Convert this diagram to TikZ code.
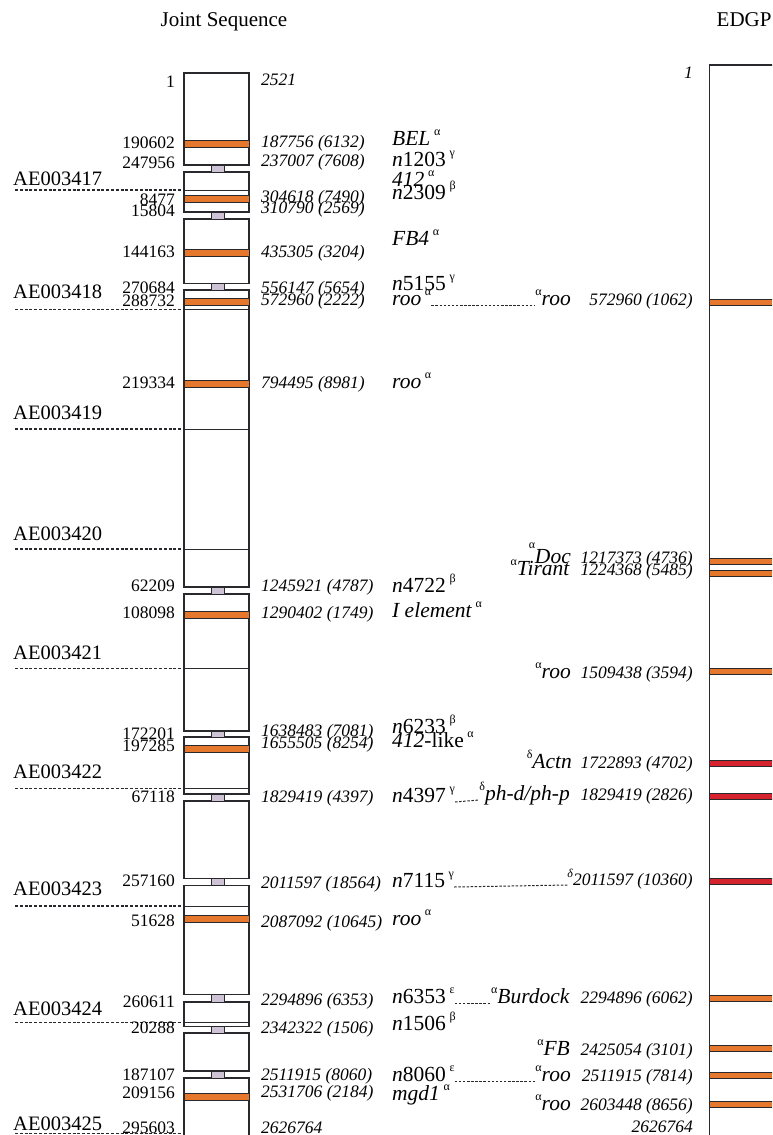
\documentclass[tikz,border=0pt]{standalone}
\usepackage{fontspec}
\setmainfont{Liberation Serif}
\definecolor{orng}{RGB}{230,120,45}
\definecolor{redb}{RGB}{212,35,45}
\definecolor{linec}{RGB}{40,40,45}
\definecolor{conng}{RGB}{205,195,212}
\newcommand\grk[1]{\raisebox{0.45em}{\fontsize{12}{12}\selectfont #1}}
\newcommand\fnum{\fontsize{17.5}{18}\selectfont}
\newcommand\fname{\fontsize{21.5}{22}\selectfont}
\newcommand\fae{\fontsize{20.5}{21}\selectfont}
\tikzset{
  segbox/.style={draw=linec, line width=1.2pt, fill=white},
  bandbox/.style={draw=linec, line width=0.6pt, fill=orng},
  redbox/.style={draw=linec, line width=0.6pt, fill=redb},
  connbox/.style={draw=linec, line width=0.8pt, fill=conng},
  innerl/.style={draw=linec, line width=0.9pt},
  aeline/.style={draw=linec, line width=1.1pt, dash pattern=on 3pt off 1.8pt},
  dotl/.style={draw=linec, line width=1pt, dash pattern=on 2.5pt off 1.6pt},
  lnum/.style={font=\fnum, anchor=base east, inner sep=0pt},
  rnum/.style={font=\fnum\itshape, anchor=base west, inner sep=0pt},
  enum/.style={font=\fnum\itshape, anchor=base east, inner sep=0pt},
  lname/.style={font=\fname, anchor=base west, inner sep=0pt},
  rname/.style={font=\fname, anchor=base east, inner sep=0pt},
  aelab/.style={font=\fae, anchor=base west, inner sep=0pt},
  ttl/.style={font=\fontsize{21}{22}\selectfont, inner sep=0pt}
}
\begin{document}
\begin{tikzpicture}[x=1pt,y=-1pt]
\fill[white] (0,0) rectangle (772,1135);
\useasboundingbox (0,0) rectangle (772,1135);
\clip (0,0) rectangle (772,1135);

% titles
\node[ttl, anchor=base] (tjoint) at (224,26) {Joint Sequence};
\node[ttl, anchor=base west] (tedgp) at (716.5,27) {EDGP};

% ---------- left column ----------
\foreach \t/\b in {73/165, 172/212, 219/283.5, 290/587, 594/731, 737/794, 801/878.5, 885.5/994.5, 1002/1026.5, 1033/1071, 1078/1150}
  \draw[segbox] (184,\t) rectangle (249,\b);
\foreach \t/\b in {165/172, 212/219, 283.5/290, 587/594, 731/737, 794/801, 878.5/885.5, 994.5/1002, 1026.5/1033, 1071/1078}
  \draw[connbox] (211,\t) rectangle (224,\b);
\foreach \y in {143.7,199,253,301.7,384,615,748.7,919,1096.7}
  \draw[bandbox] (184,{\y-3.3}) rectangle (249,{\y+3.3});
\foreach \y in {190,309.5,429,549,668.3,788.3,906,1022.7}
  \draw[innerl] (184,\y) -- (249,\y);

% AE labels and dashed boundaries
\foreach \n/\yb/\yl in {3417/185/190, 3418/298.5/309.5, 3419/419/429, 3420/540/549, 3421/659/668.3, 3422/778/788.3, 3423/895/906, 3424/1015/1022.7, 3425/1130/1133.5}{
  \node[aelab] (ae\n) at (13,\yb) {AE00\n};
  \coordinate (aes\n) at (15,\yl);
  \coordinate (aee\n) at (184,\yl);
  \draw[aeline] (aes\n) -- (aee\n);
}

% left numbers
\node[lnum] (l1) at (175,87) {1};
\node[lnum] (l2) at (175,148.3) {190602};
\node[lnum] (l3) at (175,168) {247956};
\node[lnum] (l4) at (175,205) {8477};
\node[lnum] (l5) at (175,216.5) {15804};
\node[lnum] (l6) at (175,257) {144163};
\node[lnum] (l7) at (175,293) {270684};
\node[lnum] (l8) at (175,306.5) {288732};
\node[lnum] (l9) at (175,388) {219334};
\node[lnum] (l10) at (175,591) {62209};
\node[lnum] (l11) at (175,618) {108098};
\node[lnum] (l12) at (175,739) {172201};
\node[lnum] (l13) at (175,751.7) {197285};
\node[lnum] (l14) at (175,802.5) {67118};
\node[lnum] (l15) at (175,886.5) {257160};
\node[lnum] (l16) at (175,926) {51628};
\node[lnum] (l17) at (175,1007) {260611};
\node[lnum] (l18) at (175,1033) {20288};
\node[lnum] (l19) at (175,1080.5) {187107};
\node[lnum] (l20) at (175,1098.3) {209156};
\node[lnum] (l21) at (175,1133) {295603};

% italic positions
\node[rnum] (r1) at (261,85) {2521};
\node[rnum] (r2) at (261,147.5) {187756 (6132)};
\node[rnum] (r3) at (261,166.5) {237007 (7608)};
\node[rnum] (r4) at (261,202) {304618 (7490)};
\node[rnum] (r5) at (261,213.5) {310790 (2569)};
\node[rnum] (r6) at (261,257) {435305 (3204)};
\node[rnum] (r7) at (261,293) {556147 (5654)};
\node[rnum] (r8) at (261,305) {572960 (2222)};
\node[rnum] (r9) at (261,388) {794495 (8981)};
\node[rnum] (r10) at (261,591) {1245921 (4787)};
\node[rnum] (r11) at (261,618) {1290402 (1749)};
\node[rnum] (r12) at (261,736.5) {1638483 (7081)};
\node[rnum] (r13) at (261,748) {1655505 (8254)};
\node[rnum] (r14) at (261,802) {1829419 (4397)};
\node[rnum] (r15) at (261,888) {2011597 (18564)};
\node[rnum] (r16) at (261,927) {2087092 (10645)};
\node[rnum] (r17) at (261,1005) {2294896 (6353)};
\node[rnum] (r18) at (261,1033) {2342322 (1506)};
\node[rnum] (r19) at (261,1080) {2511915 (8060)};
\node[rnum] (r20) at (261,1097) {2531706 (2184)};
\node[rnum] (r21) at (261,1133) {2626764};

% element names
\node[lname] (bel) at (392,145) {\textit{BEL}\,\grk{α}};
\node[lname] (n1203) at (392,166) {\textit{n}1203\,\grk{γ}};
\node[lname] (e412) at (392,186) {\textit{412}\,\grk{α}};
\node[lname] (n2309) at (392,199) {\textit{n}2309\,\grk{β}};
\node[lname] (fb4) at (392,245) {\textit{FB4}\,\grk{α}};
\node[lname] (n5155) at (392,290) {\textit{n}5155\,\grk{γ}};
\node[lname] (roo1) at (392,305) {\textit{roo}\,\grk{α}};
\node[lname] (roo2) at (392,388) {\textit{roo}\,\grk{α}};
\node[lname] (n4722) at (392,592) {\textit{n}4722\,\grk{β}};
\node[lname] (iel) at (392,617) {\textit{I element}\,\grk{α}};
\node[lname] (n6233) at (392,733) {\textit{n}6233\,\grk{β}};
\node[lname] (l412) at (392,747) {\textit{412}-like\,\grk{α}};
\node[lname] (n4397) at (392,802) {\textit{n}4397\,\grk{γ}};
\node[lname] (n7115) at (392,887) {\textit{n}7115\,\grk{γ}};
\node[lname] (roo3) at (392,925) {\textit{roo}\,\grk{α}};
\node[lname] (n6353) at (392,1003) {\textit{n}6353\,\grk{ε}};
\node[lname] (n1506) at (392,1030) {\textit{n}1506\,\grk{β}};
\node[lname] (n8060) at (392,1081) {\textit{n}8060\,\grk{ε}};
\node[lname] (mgd1) at (392,1100) {\textit{mgd1}\,\grk{α}};

% ---------- EDGP column ----------
\draw[segbox] (709.5,65) rectangle (800,1150);
\foreach \y in {302,561.7,573.3,671.7,998.3,1048.3,1075,1104}
  \draw[bandbox] (709.5,{\y-3}) rectangle (800,{\y+3});
\foreach \y in {763.3,796.7,881.7}
  \draw[redbox] (709.5,{\y-3}) rectangle (800,{\y+3});

\node[enum] (e1) at (693,78) {1};
\node[rname] (roo1r) at (571,305) {\grk{α}\textit{roo}};
\node[enum] (e2) at (693,305) {572960 (1062)};
\node[rname] (doc) at (571,563) {\textit{Doc}};
\node[font=\fontsize{12}{12}\selectfont, inner sep=0pt] (docg) at (532,546) {α};
\node[rname] (tir) at (570,575) {\grk{α}\textit{Tirant}};
\node[enum] (e3) at (693,563) {1217373 (4736)};
\node[enum] (e4) at (693,575) {1224368 (5485)};
\node[rname] (roo4) at (571,678) {\grk{α}\textit{roo}};
\node[enum] (e5) at (693,678) {1509438 (3594)};
\node[rname] (actn) at (572,768) {\grk{δ}\textit{Actn}};
\node[enum] (e6) at (693,768) {1722893 (4702)};
\node[rname] (phd) at (570,800) {\grk{δ}\textit{ph-d/ph-p}};
\node[enum] (e7) at (693,800) {1829419 (2826)};
\node[enum] (e8) at (693,885) {\grk{δ}\textit{2011597 (10360)}};
\node[rname] (burd) at (570,1003) {\grk{α}\textit{Burdock}};
\node[enum] (e9) at (693,1003) {2294896 (6062)};
\node[rname] (fb) at (570,1055) {\grk{α}\textit{FB}};
\node[enum] (e10) at (693,1055) {2425054 (3101)};
\node[rname] (roo5) at (571,1081) {\grk{α}\textit{roo}};
\node[enum] (e11) at (693,1081) {2511915 (7814)};
\node[rname] (roo6) at (571,1110) {\grk{α}\textit{roo}};
\node[enum] (e12) at (693,1110) {2603448 (8656)};
\node[enum] (e13) at (693,1132) {2626764};

% dotted correspondences
\draw[dotl] (roo1.base east) -- (roo1r.base west);
\draw[dotl] (n4397.base east) -- (phd.base west);
\draw[dotl] (n7115.base east) -- (e8.base west);
\draw[dotl] (n6353.base east) -- (burd.base west);
\draw[dotl] (n8060.base east) -- (roo5.base west);
\end{tikzpicture}
\end{document}
